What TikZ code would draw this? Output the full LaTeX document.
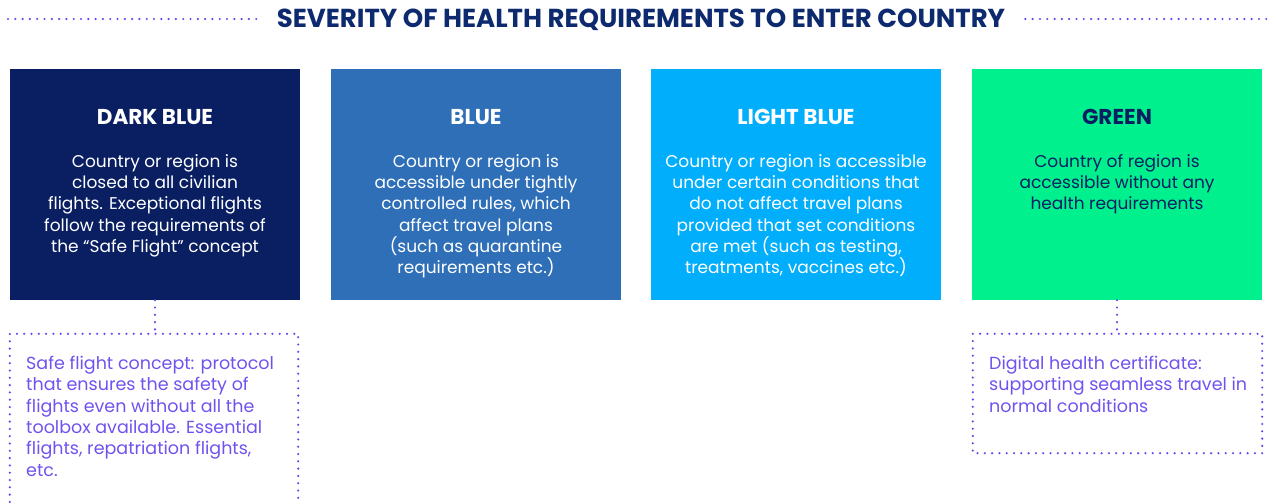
\documentclass[tikz,border=0pt]{standalone}
\usepackage{fontspec}
\setmainfont{Poppins}
\usetikzlibrary{positioning}
\definecolor{titlecol}{HTML}{0E2A6E}
\definecolor{dotcol}{HTML}{6A42F0}
\definecolor{notecol}{HTML}{7152EE}
\definecolor{lvdark}{HTML}{0A1F62}
\definecolor{lvblue}{HTML}{2E6FB8}
\definecolor{lvlight}{HTML}{00AEFC}
\definecolor{lvgreen}{HTML}{00F08E}
\begin{document}
\begin{tikzpicture}[x=1pt, y=-1pt, line join=round]
\tikzset{
  level/.style={minimum width=290pt, minimum height=231pt, inner sep=0pt},
  head/.style={font=\fontsize{21.5}{24}\selectfont\bfseries, anchor=north, inner sep=0pt},
  body/.style={font=\fontsize{17}{21.3}\selectfont, align=center, anchor=north, inner sep=0pt},
  note/.style={font=\fontsize{17.5}{21.3}\selectfont, align=left, anchor=north west, inner sep=0pt, text=notecol},
  dots/.style={draw=dotcol, line width=2.4pt, line cap=round, dash pattern=on 0pt off 7.3pt},
}
\useasboundingbox (0,0) rectangle (1276,503);
% title
\node[font=\fontsize{26}{30}\selectfont\bfseries, text=titlecol, inner sep=0pt] (title) at (641,20) {SEVERITY OF HEALTH REQUIREMENTS TO ENTER COUNTRY};
\coordinate (tl) at (8,19);
\coordinate (tr) at (1270,19);
\draw[dots] (tl) -- ([xshift=-20pt]title.west |- tl);
\draw[dots] ([xshift=20pt]title.east |- tr) -- (tr);
% levels
\node[level, fill=lvdark] (dark) at (155,184.5) {};
\node[level, fill=lvblue] (blue) at (476,184.5) {};
\node[level, fill=lvlight] (light) at (796,184.5) {};
\node[level, fill=lvgreen] (green) at (1117,184.5) {};
\node[head, text=white] (dark-h) at (155,109) {DARK BLUE};
\node[head, text=white] (blue-h) at (476,109) {BLUE};
\node[head, text=white] (light-h) at (796,109) {LIGHT BLUE};
\node[head, text=lvdark] (green-h) at (1117,109) {GREEN};
\node[body, text=white] (dark-b) at (155,154) {Country or region is\\closed to all civilian\\flights. Exceptional flights\\follow the requirements of\\the “Safe Flight” concept};
\node[body, text=white] (blue-b) at (476,154) {Country or region is\\accessible under tightly\\controlled rules, which\\affect travel plans\\(such as quarantine\\requirements etc.)};
\node[body, text=white] (light-b) at (796,154) {Country or region is accessible\\under certain conditions that\\do not affect travel plans\\provided that set conditions\\are met (such as testing,\\treatments, vaccines etc.)};
\node[body, text=lvdark] (green-b) at (1117,154) {Country of region is\\accessible without any\\health requirements};
% notes
\node[minimum width=288pt, minimum height=175pt, inner sep=0pt] (note1) at (154,421.5) {};
\node[minimum width=289pt, minimum height=119pt, inner sep=0pt] (note2) at (1117.5,393.5) {};
\draw[dots] (note1.south west) -- (note1.north west) -- (note1.north east) -- (note1.south east);
\draw[dots] (note2.north west) rectangle (note2.south east);
\draw[dots] (dark.south) -- (dark.south |- note1.north);
\draw[dots] (green.south) -- (green.south |- note2.north);
\node[note] (note1-t) at (26,356) {Safe flight concept: protocol\\that ensures the safety of\\flights even without all the\\toolbox available. Essential\\flights, repatriation flights,\\etc.};
\node[note] (note2-t) at (989,356) {Digital health certificate:\\supporting seamless travel in\\normal conditions};
\end{tikzpicture}
\end{document}
